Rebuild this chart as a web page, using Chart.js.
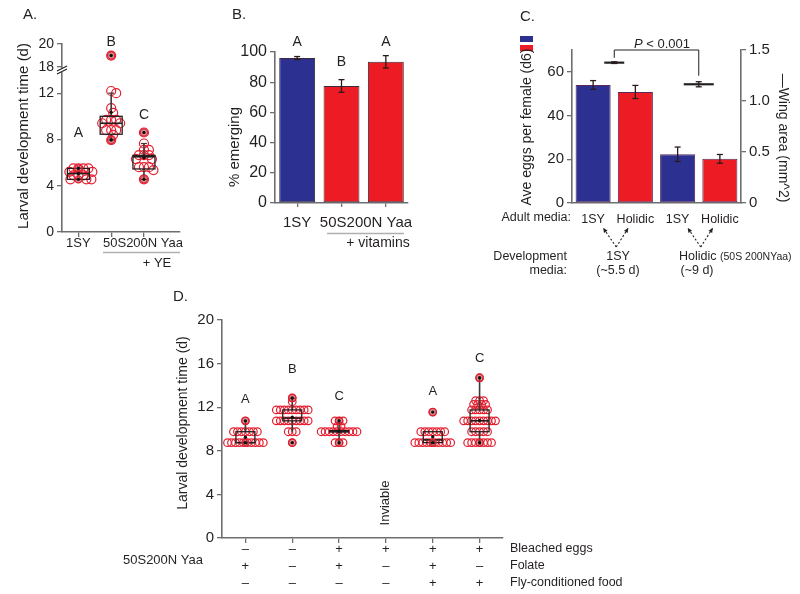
<!DOCTYPE html>
<html><head><meta charset="utf-8">
<script src="https://cdn.jsdelivr.net/npm/chart.js@4.4.1/dist/chart.umd.min.js"></script>
<style>
html,body{margin:0;padding:0;background:#fff;width:800px;height:594px;overflow:hidden}
canvas{position:absolute;left:0;top:0}
</style></head><body>
<canvas id="cA" width="800" height="594"></canvas>
<canvas id="cB" width="800" height="594"></canvas>
<canvas id="cC" width="800" height="594"></canvas>
<canvas id="cD" width="800" height="594"></canvas>
<script>
// ---------------- Panel A data ----------------
const catsA = ['1SY', '50S200N Yaa', '50S200N Yaa + YE'];
const larvalA_1SY = [5.5,5.5,5.5,5.5,5.2,5.2,4.9,4.9,4.9,4.55,4.55,4.55];
const larvalA_Yaa = [19.0,12.5,12.0,10.7,10.3,9.7,9.7,9.7,9.4,9.4,8.8,8.8,8.8,8.4,7.95];
const larvalA_YE  = [8.6,7.65,7.1,7.1,6.65,6.65,6.65,6.3,6.3,5.6,5.6,5.6,5.35,4.55];
const boxA_q1  = [4.55, 8.45, 5.45];
const boxA_med = [5.05, 9.4, 6.5];
const boxA_q3  = [5.5, 10.0, 6.62];
const boxA_lo  = [4.55, 7.95, 4.55];
const boxA_hi  = [5.5, 12.0, 7.65];
const lettersA = ['A','B','C'];
const ticksA = [0,4,8,12,18,20];

// ---------------- Panel B data ----------------
const catsB = ['1SY', '50S200N Yaa', '50S200N Yaa + vitamins'];
const emergingB = [96, 77.5, 93.5];
const emergingErrB = [1, 4.2, 4.1];
const lettersB = ['A','B','A'];
const ticksB = [0,20,40,60,80,100];

// ---------------- Panel C data ----------------
const adultMediaC = ['1SY','Holidic','1SY','Holidic'];
const devMediaC = ['1SY','Holidic'];
const eggsC = [54, 50.8, 22.3, 20.2];
const eggsErrC = [2, 3, 3.3, 2];
const wingC = [1.376, 1.164];
const wingErrC = [0.008, 0.025];
const ticksCeggs = [0,20,40,60];
const ticksCwing = [0,0.5,1.0,1.5];

// ---------------- Panel D data ----------------
const larvalD_1 = [8.75,8.75,8.75,8.75,8.75,8.75,8.75,8.75,8.75,8.75,9.75,9.75,9.75,9.75,9.75,9.75,9.75,10.75];
const larvalD_2 = [8.75,9.75,9.75,9.75,10.75,10.75,10.75,10.75,10.75,10.75,10.75,10.75,10.75,11.75,11.75,11.75,11.75,11.75,11.75,11.75,11.75,11.75,12.5,12.85];
const larvalD_3 = [8.75,8.75,8.75,9.75,9.75,9.75,9.75,9.75,9.75,9.75,9.75,9.75,9.75,10.25,10.25,10.75,10.75,10.75];
const larvalD_4 = [];
const larvalD_5 = [8.75,8.75,8.75,8.75,8.75,8.75,8.75,8.75,8.75,8.75,9.75,9.75,9.75,9.75,9.75,9.75,9.75,11.55];
const larvalD_6 = [8.75,8.75,8.75,8.75,8.75,8.75,8.75,9.75,9.75,9.75,9.75,9.75,10.75,10.75,10.75,10.75,10.75,10.75,10.75,10.75,10.75,11.75,11.75,11.75,11.75,11.75,12.25,12.25,12.25,12.25,12.6,12.6,12.6,14.7];
const boxD_q1  = [8.75, 10.75, 9.75, null, 8.75, 9.75];
const boxD_med = [8.75, 11.0, 9.75, null, 9.0, 10.75];
const boxD_q3  = [9.75, 11.75, 9.85, null, 9.75, 11.75];
const boxD_lo  = [8.75, 9.75, 8.75, null, 8.75, 8.75];
const boxD_hi  = [10.75, 12.85, 10.75, null, 9.75, 14.7];
const lettersD = ['A','B','C','','A','C'];
const bleachedD = ['–','–','+','+','+','+'];
const folateD   = ['+','–','+','–','+','–'];
const flyFoodD  = ['–','–','–','–','+','+'];
const ticksD = [0,4,8,12,16,20];

// ---------------- styling ----------------
const FONT = '"Liberation Sans", Arial, Helvetica, sans-serif';
const INK = '#231f20';
const RED = 'rgb(228,30,46)';
const BLUE = 'rgb(44,48,145)';
const BARRED = 'rgb(237,28,36)';
const AXIS = '#6d6e71';
const ERR = '#2a1a1a';

function brokenY(v){ return v <= 12 ? v : (v >= 18 ? 14.25 + (v - 18) : 12 + (v - 12) * (2.25 / 6)); }

// symmetric rows for identical values
function swarm(vals, idx, step, tf){
  const counts = {}, seen = {};
  vals.forEach(v => counts[v] = (counts[v] || 0) + 1);
  return vals.map(v => {
    const n = counts[v]; const k = seen[v] = (seen[v] || 0) + 1;
    return {x: idx + (k - 1 - (n - 1) / 2) * step, y: tf ? tf(v) : v};
  });
}
// collision beeswarm (approximate pixel aspect of the panel)
function swarmPx(vals, idx, tf, pxY, pxX, d){
  const placed = [];
  return vals.map(v => {
    const yv = tf(v) * pxY;
    let off = 0;
    for (let k = 0; k < 400; k++){
      const o = (k % 2 ? 1 : -1) * Math.ceil(k / 2) * 0.5;
      if (placed.every(p => (p[0] - o) * (p[0] - o) + (p[1] - yv) * (p[1] - yv) >= d * d)) { off = o; break; }
    }
    placed.push([off, yv]);
    return {x: idx + off / pxX, y: tf(v)};
  });
}

function T(ctx, s, x, y, o){
  o = o || {};
  ctx.save();
  ctx.font = (o.style || '') + ' ' + (o.size || 13) + 'px ' + FONT;
  ctx.fillStyle = o.color || INK;
  ctx.textAlign = o.align || 'center';
  ctx.textBaseline = o.base || 'middle';
  ctx.translate(x, y);
  if (o.rot) ctx.rotate(o.rot);
  ctx.fillText(s, 0, 0);
  ctx.restore();
}
function L(ctx, x0, y0, x1, y1){ ctx.beginPath(); ctx.moveTo(x0, y0); ctx.lineTo(x1, y1); ctx.stroke(); }

function errBar(ctx, x, yTop, yBot, cap){
  ctx.save(); ctx.strokeStyle = ERR; ctx.lineWidth = 1.3;
  L(ctx, x, yTop, x, yBot); L(ctx, x - cap, yTop, x + cap, yTop); L(ctx, x - cap, yBot, x + cap, yBot);
  ctx.restore();
}

const common = {
  responsive: false, animation: false, devicePixelRatio: 1, events: [],
  plugins: {legend: {display: false}, tooltip: {enabled: false}}
};

function yAxis(min, max, ticks, fmt, size, extra){
  return Object.assign({
    type: 'linear', min: min, max: max,
    afterBuildTicks: s => { s.ticks = ticks.map(v => ({value: v})); },
    afterFit: s => { s.width = 40; },
    grid: {display: true, drawOnChartArea: false, drawTicks: true, tickLength: 5, color: AXIS, lineWidth: 1.3},
    border: {display: true, color: AXIS, width: 1.6},
    ticks: {font: {family: FONT, size: size}, color: INK, padding: 3, callback: fmt}
  }, extra || {});
}
function xLinear(min, max, ticks){
  return {
    type: 'linear', min: min, max: max, offset: false,
    afterBuildTicks: s => { s.ticks = ticks.map(v => ({value: v})); },
    afterFit: s => { s.height = 6; },
    grid: {display: true, drawOnChartArea: false, drawTicks: true, tickLength: 5, color: AXIS, lineWidth: 1.3},
    border: {display: true, color: AXIS, width: 1.6},
    ticks: {display: false}
  };
}

function boxPlugin(key, groups, q1, med, q3, lo, hi, halfW, cap, tf){
  tf = tf || (v => v);
  return {
    id: 'box' + key,
    afterDatasetsDraw(chart){
      const ctx = chart.ctx, xs = chart.scales.x, ys = chart.scales.y;
      const Y = v => ys.getPixelForValue(tf(v));
      ctx.save();
      q1.forEach((a, i) => {
        if (a == null) return;
        const cx = xs.getPixelForValue(i);
        ctx.strokeStyle = '#3a3a3a'; ctx.lineWidth = 1.6;
        L(ctx, cx, Y(hi[i]), cx, Y(q3[i]));
        L(ctx, cx, Y(q1[i]), cx, Y(lo[i]));
        if (cap) { ctx.lineWidth = 1.2; L(ctx, cx - cap, Y(hi[i]), cx + cap, Y(hi[i])); L(ctx, cx - cap, Y(lo[i]), cx + cap, Y(lo[i])); }
        ctx.strokeStyle = INK; ctx.lineWidth = 1.3;
        ctx.strokeRect(cx - halfW, Y(q3[i]), 2 * halfW, Y(q1[i]) - Y(q3[i]));
        ctx.lineWidth = 1.6;
        L(ctx, cx - halfW, Y(med[i]), cx + halfW, Y(med[i]));
        const g = groups[i];
        const mn = Math.min.apply(null, g), mx = Math.max.apply(null, g);
        const mean = g.reduce((s, v) => s + v, 0) / g.length;
        [mn, mx].forEach(v => {
          ctx.beginPath(); ctx.arc(cx, Y(v), 3.6, 0, Math.PI * 2);
          ctx.fillStyle = 'rgba(170,60,70,0.55)'; ctx.fill();
          ctx.strokeStyle = RED; ctx.lineWidth = 1.2; ctx.stroke();
        });
        [mn, mx, mean].forEach(v => {
          ctx.beginPath(); ctx.arc(cx, Y(v), 1.7, 0, Math.PI * 2);
          ctx.fillStyle = '#111'; ctx.fill();
        });
      });
      ctx.restore();
    }
  };
}

// ================= Panel A =================
const groupsA = [larvalA_1SY, larvalA_Yaa, larvalA_YE];
const dispTicksA = ticksA.map(brokenY);
new Chart(document.getElementById('cA'), {
  type: 'scatter',
  data: {datasets: groupsA.map((g, i) => ({
    label: catsA[i], data: swarmPx(g, i, brokenY, 11.57, 32.8, 5),
    pointRadius: 4.5, pointHoverRadius: 4.5, borderWidth: 1.2,
    borderColor: RED, backgroundColor: 'rgba(0,0,0,0)'
  }))},
  options: Object.assign({}, common, {
    layout: {padding: {left: 22, top: 44, right: 620, bottom: 356}},
    scales: {
      x: xLinear(-0.5, 3.1, [0, 1, 2]),
      y: yAxis(0, brokenY(20), dispTicksA, v => { const k = dispTicksA.findIndex(d => Math.abs(d - v) < 1e-6); return k >= 0 ? String(ticksA[k]) : ''; }, 14)
    }
  }),
  plugins: [
    boxPlugin('A', groupsA, boxA_q1, boxA_med, boxA_q3, boxA_lo, boxA_hi, 11, 3, brokenY),
    {id: 'textA', afterDraw(chart){
      const ctx = chart.ctx, xs = chart.scales.x;
      T(ctx, 'A.', 23, 15, {size: 15, align: 'left'});
      T(ctx, 'Larval development time (d)', 24, 136, {size: 15, rot: -Math.PI / 2});
      const letterY = [133, 42, 115];
      lettersA.forEach((s, i) => T(ctx, s, xs.getPixelForValue(i), letterY[i], {size: 14}));
      const x0 = chart.chartArea.left, yb = 70;
      ctx.save();
      ctx.fillStyle = '#fff'; ctx.fillRect(x0 - 3, yb - 2, 6, 4);
      ctx.strokeStyle = INK; ctx.lineWidth = 1.2;
      L(ctx, x0 - 5, yb + 1, x0 + 5, yb - 4);
      L(ctx, x0 - 5, yb + 4, x0 + 5, yb - 1);
      ctx.restore();
      T(ctx, '1SY', xs.getPixelForValue(0), 243, {size: 13});
      T(ctx, '50S200N Yaa', 143, 243, {size: 13});
      ctx.save(); ctx.strokeStyle = '#b0b0b0'; ctx.lineWidth = 1.5; L(ctx, 103, 252.5, 180, 252.5); ctx.restore();
      T(ctx, '+ YE', 157, 263, {size: 13});
    }}
  ]
});

// ================= Panel B =================
new Chart(document.getElementById('cB'), {
  type: 'bar',
  data: {labels: catsB, datasets: [{
    data: emergingB,
    backgroundColor: catsB.map(c => c === '1SY' ? BLUE : BARRED),
    borderColor: '#3a2a3a', borderWidth: 1, borderSkipped: false,
    barPercentage: 0.81, categoryPercentage: 1
  }]},
  options: Object.assign({}, common, {
    layout: {padding: {left: 235, top: 52, right: 392, bottom: 385}},
    scales: {
      x: {type: 'category', afterFit: s => { s.height = 6; },
          grid: {display: true, offset: false, drawOnChartArea: false, drawTicks: true, tickLength: 4, color: AXIS, lineWidth: 1.3},
          border: {display: true, color: AXIS, width: 1.6}, ticks: {display: false}},
      y: yAxis(0, 100, ticksB, v => String(v), 16)
    }
  }),
  plugins: [{id: 'textB', afterDraw(chart){
    const ctx = chart.ctx, xs = chart.scales.x, ys = chart.scales.y;
    emergingB.forEach((v, i) => errBar(ctx, xs.getPixelForValue(i), ys.getPixelForValue(v + emergingErrB[i]), ys.getPixelForValue(v - emergingErrB[i]), 3));
    T(ctx, 'B.', 232, 15, {size: 15, align: 'left'});
    T(ctx, '% emerging', 235, 147, {size: 15, rot: -Math.PI / 2});
    const letterY = [42, 62, 42];
    lettersB.forEach((s, i) => T(ctx, s, xs.getPixelForValue(i), letterY[i], {size: 14}));
    T(ctx, '1SY', xs.getPixelForValue(0), 223, {size: 15});
    T(ctx, '50S200N Yaa', 366, 223, {size: 15});
    ctx.save(); ctx.strokeStyle = '#b0b0b0'; ctx.lineWidth = 1.5; L(ctx, 327, 233.5, 404, 233.5); ctx.restore();
    T(ctx, '+ vitamins', 378, 243, {size: 14});
  }}]
});

// ================= Panel C =================
new Chart(document.getElementById('cC'), {
  type: 'bar',
  data: {labels: adultMediaC, datasets: [
    {type: 'bar', data: eggsC, xAxisID: 'x', yAxisID: 'y', grouped: false,
     backgroundColor: adultMediaC.map(c => c === '1SY' ? BLUE : BARRED),
     borderColor: '#5a2a5a', borderWidth: 1, borderSkipped: false,
     barPercentage: 0.83, categoryPercentage: 1, order: 2},
    {type: 'scatter', xAxisID: 'xw', yAxisID: 'y2', order: 1,
     data: devMediaC.map((d, i) => ({x: 2 * i + 0.5, y: wingC[i]})),
     pointStyle: 'line', pointRadius: [10, 15], pointHoverRadius: [10, 15],
     borderColor: '#222', borderWidth: 2.2, backgroundColor: '#222'}
  ]},
  options: Object.assign({}, common, {
    layout: {padding: {left: 532, top: 50, right: 23, bottom: 361}},
    scales: {
      x: {type: 'category', afterFit: s => { s.height = 30; },
          grid: {display: false, drawTicks: false},
          border: {display: true, color: AXIS, width: 1.6},
          ticks: {font: {family: FONT, size: 12.5}, color: INK, padding: 9, autoSkip: false, maxRotation: 0, minRotation: 0}},
      xw: {type: 'linear', min: -0.5, max: 3.5, display: false, offset: false},
      y: yAxis(0, 70, ticksCeggs, v => String(v), 15),
      y2: yAxis(0, 1.5, ticksCwing, v => v === 0 ? '0' : v.toFixed(1), 15, {position: 'right', afterFit: s => { s.width = 36; }})
    }
  }),
  plugins: [{id: 'textC', afterDraw(chart){
    const ctx = chart.ctx, xs = chart.scales.x, ys = chart.scales.y, y2 = chart.scales.y2, xw = chart.scales.xw;
    eggsC.forEach((v, i) => errBar(ctx, xs.getPixelForValue(i), ys.getPixelForValue(v + eggsErrC[i]), ys.getPixelForValue(v - eggsErrC[i]), 3));
    wingC.forEach((v, i) => errBar(ctx, xw.getPixelForValue(2 * i + 0.5), y2.getPixelForValue(v + wingErrC[i]), y2.getPixelForValue(v - wingErrC[i]), 3));
    const bx0 = xw.getPixelForValue(0.5), bx1 = xw.getPixelForValue(2.5), by = chart.chartArea.top;
    ctx.save(); ctx.strokeStyle = INK; ctx.lineWidth = 1;
    L(ctx, bx0, by, bx1, by);
    L(ctx, bx0, by, bx0, y2.getPixelForValue(wingC[0] + wingErrC[0]) - 4);
    L(ctx, bx1, by, bx1, y2.getPixelForValue(wingC[1] + wingErrC[1]) - 6);
    ctx.restore();
    ctx.save();
    ctx.font = 'italic 13px ' + FONT; const wP = ctx.measureText('P').width;
    ctx.font = '13px ' + FONT; const wR = ctx.measureText(' < 0.001').width;
    ctx.restore();
    const px = 662 - (wP + wR) / 2;
    T(ctx, 'P', px, 44, {size: 13, align: 'left', style: 'italic'});
    T(ctx, ' < 0.001', px + wP, 44, {size: 13, align: 'left'});
    T(ctx, 'C.', 520, 17, {size: 15, align: 'left'});
    ctx.save(); ctx.fillStyle = BLUE; ctx.fillRect(520, 36, 13, 6); ctx.fillStyle = BARRED; ctx.fillRect(520, 45, 13, 6); ctx.restore();
    T(ctx, 'Ave eggs per female (d6)', 527, 127, {size: 14, rot: -Math.PI / 2});
    T(ctx, '—Wing area (mm^2)', 783, 138, {size: 14, rot: Math.PI / 2});
    T(ctx, 'Adult media:', 571, 218, {size: 12.5, align: 'right'});
    T(ctx, 'Development', 567, 257, {size: 12.5, align: 'right'});
    T(ctx, 'media:', 567, 271, {size: 12.5, align: 'right'});
    const arrow = (x0, y0, x1, y1) => {
      ctx.save(); ctx.strokeStyle = INK; ctx.fillStyle = INK; ctx.lineWidth = 1.1; ctx.setLineDash([2, 2]);
      L(ctx, x0, y0, x1, y1); ctx.setLineDash([]);
      const a = Math.atan2(y1 - y0, x1 - x0), s = 5;
      ctx.beginPath(); ctx.moveTo(x1, y1);
      ctx.lineTo(x1 - s * Math.cos(a - 0.45), y1 - s * Math.sin(a - 0.45));
      ctx.lineTo(x1 - s * Math.cos(a + 0.45), y1 - s * Math.sin(a + 0.45));
      ctx.closePath(); ctx.fill(); ctx.restore();
    };
    devMediaC.forEach((d, i) => {
      const bx = xw.getPixelForValue(2 * i + 0.5) + 2;
      arrow(bx, 247, bx - 13, 228);
      arrow(bx, 247, bx + 12, 228);
    });
    T(ctx, devMediaC[0], 618, 257, {size: 12.5});
    T(ctx, '(~5.5 d)', 618, 271, {size: 12.5});
    ctx.save(); ctx.font = '12.5px ' + FONT; const wH = ctx.measureText(devMediaC[1] + ' ').width; ctx.restore();
    T(ctx, devMediaC[1], 679, 257, {size: 12.5, align: 'left'});
    T(ctx, '(50S 200NYaa)', 679 + wH, 257, {size: 10.5, align: 'left'});
    T(ctx, '(~9 d)', 697, 271, {size: 12.5});
  }}]
});

// ================= Panel D =================
const groupsD = [larvalD_1, larvalD_2, larvalD_3, larvalD_4, larvalD_5, larvalD_6];
new Chart(document.getElementById('cD'), {
  type: 'scatter',
  data: {datasets: groupsD.map((g, i) => ({
    data: swarm(g, i, 0.085),
    pointRadius: 3.8, pointHoverRadius: 3.8, borderWidth: 1.2,
    borderColor: RED, backgroundColor: 'rgba(0,0,0,0)'
  }))},
  options: Object.assign({}, common, {
    layout: {padding: {left: 182, top: 320, right: 297, bottom: 50}},
    scales: {
      x: xLinear(-0.5, 5.5, [0, 1, 2, 3, 4, 5]),
      y: yAxis(0, 20, ticksD, v => String(v), 15)
    }
  }),
  plugins: [
    boxPlugin('D', groupsD, boxD_q1, boxD_med, boxD_q3, boxD_lo, boxD_hi, 9.5, 0),
    {id: 'textD', afterDraw(chart){
      const ctx = chart.ctx, xs = chart.scales.x;
      T(ctx, 'D.', 173, 297, {size: 15, align: 'left'});
      T(ctx, 'Larval development time (d)', 183, 423, {size: 14, rot: -Math.PI / 2});
      const letterY = [399, 369, 396, 0, 391, 358];
      lettersD.forEach((s, i) => { if (s) T(ctx, s, xs.getPixelForValue(i), letterY[i], {size: 13}); });
      T(ctx, 'Inviable', xs.getPixelForValue(3), 503, {size: 13, rot: -Math.PI / 2});
      [bleachedD, folateD, flyFoodD].forEach((row, r) => {
        row.forEach((s, i) => T(ctx, s, xs.getPixelForValue(i), 549 + r * 17, {size: 13}));
      });
      T(ctx, 'Bleached eggs', 510, 549, {size: 12.5, align: 'left'});
      T(ctx, 'Folate', 510, 566, {size: 12.5, align: 'left'});
      T(ctx, 'Fly-conditioned food', 510, 583, {size: 12.5, align: 'left'});
      T(ctx, '50S200N Yaa', 163, 560, {size: 13});
    }}
  ]
});
</script>
</body></html>
